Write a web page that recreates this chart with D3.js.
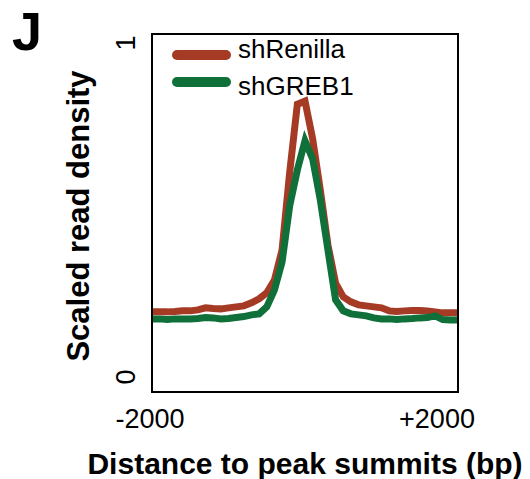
<!DOCTYPE html>
<html>
<head>
<meta charset="utf-8">
<script src="https://cdn.jsdelivr.net/npm/d3@7"></script>
<style>
  body { margin: 0; background: #fff; }
  text { font-family: "Liberation Sans", Arial, Helvetica, sans-serif; fill: #000; }
</style>
</head>
<body>
<script>
// bin positions (bp from summit)
const positions = [-2000, -1900, -1800, -1700, -1600, -1500, -1400, -1300, -1200, -1100,
  -1000, -900, -800, -700, -600, -500, -400, -300, -200, -100, 0,
  100, 200, 300, 400, 500, 600, 700, 800, 900, 1000,
  1100, 1200, 1300, 1400, 1500, 1600, 1700, 1800, 1900, 2000];

const shRenilla = [0.192, 0.192, 0.192, 0.193, 0.195, 0.195, 0.198, 0.204, 0.202, 0.201,
  0.204, 0.207, 0.210, 0.219, 0.231, 0.249, 0.287, 0.377, 0.610, 0.814, 0.823,
  0.710, 0.557, 0.392, 0.278, 0.237, 0.222, 0.213, 0.210, 0.207, 0.204,
  0.195, 0.193, 0.195, 0.196, 0.196, 0.195, 0.192, 0.189, 0.189, 0.189];

const shGREB1 = [0.171, 0.171, 0.169, 0.171, 0.171, 0.171, 0.172, 0.175, 0.174, 0.171,
  0.172, 0.175, 0.178, 0.183, 0.186, 0.207, 0.257, 0.341, 0.510, 0.617, 0.704,
  0.650, 0.527, 0.377, 0.228, 0.195, 0.186, 0.183, 0.180, 0.174, 0.171,
  0.171, 0.169, 0.171, 0.172, 0.174, 0.175, 0.180, 0.169, 0.168, 0.168];

const seriesNames = ['shRenilla', 'shGREB1'];
const seriesColors = ['#a53b24', '#10703a'];
const xTickLabels = ['-2000', '+2000'];
const yTickLabels = ['0', '1'];

const width = 530, height = 479;
const frame = { left: 152, top: 34, right: 458, bottom: 392 };

const svg = d3.select('body')
  .append('svg')
  .attr('width', width)
  .attr('height', height);

const xScale = d3.scaleLinear()
  .domain([-2000, 2000])
  .range([frame.left, frame.right]);

const yScale = d3.scaleLinear()
  .domain([0, 1])
  .range([376, 42]);

// profile lines
const line = d3.line()
  .x((d, i) => xScale(positions[i]))
  .y(d => yScale(d));

[shRenilla, shGREB1].forEach((vals, k) => {
  svg.append('path')
    .datum(vals)
    .attr('d', line)
    .attr('fill', 'none')
    .attr('stroke', seriesColors[k])
    .attr('stroke-width', 7)
    .attr('stroke-linejoin', 'miter');
});

// frame
svg.append('rect')
  .attr('x', frame.left)
  .attr('y', frame.top)
  .attr('width', frame.right - frame.left)
  .attr('height', frame.bottom - frame.top)
  .attr('fill', 'none')
  .attr('stroke', '#000')
  .attr('stroke-width', 2);

// x tick labels (placed a bit inside the ends like the original)
const xOffsets = [-2, -21];
svg.selectAll('.xtick')
  .data([-2000, 2000])
  .enter()
  .append('text')
  .attr('class', 'xtick')
  .attr('x', (d, i) => xScale(d) + xOffsets[i])
  .attr('y', 428)
  .attr('text-anchor', 'middle')
  .style('font-size', '27px')
  .text((d, i) => xTickLabels[i]);

// y tick labels, rotated
svg.selectAll('.ytick')
  .data([0, 1])
  .enter()
  .append('text')
  .attr('class', 'ytick')
  .attr('transform', d => `translate(135,${yScale(d) + 1}) rotate(-90)`)
  .attr('text-anchor', 'middle')
  .style('font-size', '27px')
  .text((d, i) => yTickLabels[i]);

// axis titles
svg.append('text')
  .attr('x', 305)
  .attr('y', 474)
  .attr('text-anchor', 'middle')
  .style('font-size', '30px')
  .style('font-weight', 'bold')
  .text('Distance to peak summits (bp)');

svg.append('text')
  .attr('transform', 'translate(89,216) rotate(-90)')
  .attr('text-anchor', 'middle')
  .style('font-size', '31px')
  .style('font-weight', 'bold')
  .text('Scaled read density');

// panel letter
svg.append('text')
  .attr('x', 12)
  .attr('y', 50)
  .style('font-size', '54px')
  .style('font-weight', 'bold')
  .text('J');

// legend
const legendLineY = [55, 82];
const legendTextY = [58, 95];
const legend = svg.append('g');
seriesNames.forEach((name, k) => {
  legend.append('line')
    .attr('x1', 177).attr('x2', 226)
    .attr('y1', legendLineY[k]).attr('y2', legendLineY[k])
    .attr('stroke', seriesColors[k])
    .attr('stroke-width', 10)
    .attr('stroke-linecap', 'round');
  legend.append('text')
    .attr('x', 238)
    .attr('y', legendTextY[k])
    .style('font-size', '26px')
    .text(name);
});
</script>
</body>
</html>
